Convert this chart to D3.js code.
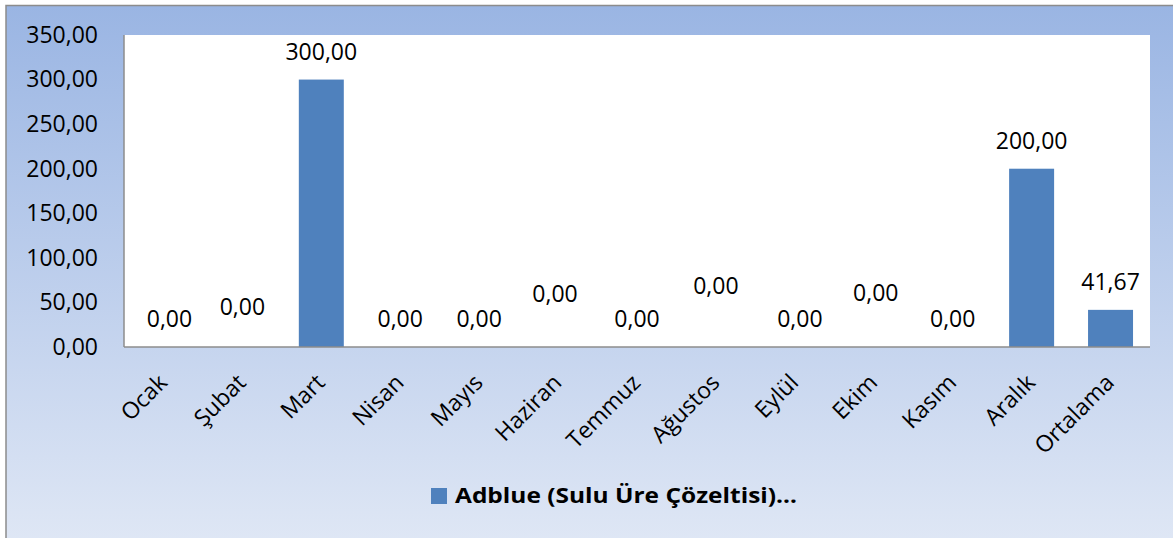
<!DOCTYPE html>
<html>
<head>
<meta charset="utf-8">
<script src="https://d3js.org/d3.v7.min.js"></script>
<style>
  html, body { margin: 0; padding: 0; background: #ffffff; }
  svg { display: block; font-family: "Open Sans", "Noto Sans", sans-serif; }
</style>
</head>
<body>
<svg id="chart" width="1173" height="538"></svg>
<script>
// data
const months = ['Ocak', 'Şubat', 'Mart', 'Nisan', 'Mayıs', 'Haziran', 'Temmuz', 'Ağustos', 'Eylül', 'Ekim', 'Kasım', 'Aralık', 'Ortalama'];
const values = [0, 0, 300, 0, 0, 0, 0, 0, 0, 0, 0, 200, 41.67];
const yTicks = [0, 50, 100, 150, 200, 250, 300, 350];
const seriesName = 'Adblue (Sulu Üre Çözeltisi)…';

// label placement quirks (px) seen in the original
const labelLift = [0, 12, 0, 0, 0, 25, 0, 33, 0, 26, 0, 0, 0];
const labelShift = [6, 0, 0, 0, 0, -3, 0, 0, 5, 2, 0, 0, 0];

const W = 1173, H = 538;
const plot = { left: 124, right: 1150, top: 35, bottom: 347 };
const fs = 23;
const fmt = v => d3.format('.2f')(v).replace('.', ',');

const svg = d3.select('#chart');

// background gradient
const defs = svg.append('defs');
const grad = defs.append('linearGradient')
  .attr('id', 'bg').attr('x1', 0).attr('y1', 0).attr('x2', 0).attr('y2', 1);
grad.append('stop').attr('offset', '0%').attr('stop-color', '#9ab5e3');
grad.append('stop').attr('offset', '100%').attr('stop-color', '#dfe7f5');

svg.append('rect')
  .attr('x', 6).attr('y', 5.5)
  .attr('width', W).attr('height', H)
  .attr('fill', 'url(#bg)')
  .attr('stroke', '#8c8c8c').attr('stroke-width', 1.5);

// plot area
svg.append('rect')
  .attr('x', plot.left).attr('y', plot.top)
  .attr('width', plot.right - plot.left).attr('height', plot.bottom - plot.top)
  .attr('fill', '#ffffff');

const x = d3.scaleBand().domain(months).range([plot.left, plot.right]).paddingInner(0.43).paddingOuter(0.215);
const xc = d3.scaleBand().domain(months).range([plot.left, plot.right]);
const y = d3.scaleLinear().domain([0, 350]).range([plot.bottom, plot.top]);

// bars
svg.append('g').selectAll('rect')
  .data(values)
  .join('rect')
  .attr('x', (d, i) => x(months[i]))
  .attr('y', d => y(d))
  .attr('width', x.bandwidth())
  .attr('height', d => y(0) - y(d))
  .attr('fill', '#4f81bd');

// axes lines
svg.append('line')
  .attr('x1', plot.left).attr('x2', plot.left)
  .attr('y1', plot.top).attr('y2', plot.bottom)
  .attr('stroke', '#8c8c8c').attr('stroke-width', 1.5);
svg.append('line')
  .attr('x1', plot.left).attr('x2', plot.right)
  .attr('y1', plot.bottom).attr('y2', plot.bottom)
  .attr('stroke', '#8c8c8c').attr('stroke-width', 1.5);

// y tick labels
svg.append('g').selectAll('text')
  .data(yTicks)
  .join('text')
  .attr('x', 98)
  .attr('y', d => y(d))
  .attr('dy', '0.34em')
  .attr('text-anchor', 'end')
  .attr('font-size', fs)
  .attr('fill', '#000')
  .text(fmt);

// x labels, rotated
svg.append('g').selectAll('text')
  .data(months)
  .join('text')
  .attr('transform', d => `translate(${xc(d) + xc.bandwidth() / 2 + 5},${plot.bottom + 37}) rotate(-45)`)
  .attr('text-anchor', 'end')
  .attr('font-size', fs)
  .attr('fill', '#000')
  .text(d => d);

// data labels
svg.append('g').selectAll('text')
  .data(values)
  .join('text')
  .attr('x', (d, i) => xc(months[i]) + xc.bandwidth() / 2 + labelShift[i])
  .attr('y', (d, i) => y(d) - 20 - labelLift[i])
  .attr('text-anchor', 'middle')
  .attr('font-size', fs)
  .attr('fill', '#000')
  .text(fmt);

// legend
const legend = svg.append('g');
legend.append('rect')
  .attr('x', 431).attr('y', 488)
  .attr('width', 16).attr('height', 16)
  .attr('fill', '#4f81bd');
legend.append('text')
  .attr('x', 455).attr('y', 503)
  .attr('font-size', 22)
  .attr('font-weight', 'bold')
  .attr('textLength', 342)
  .attr('lengthAdjust', 'spacingAndGlyphs')
  .attr('fill', '#000')
  .text(seriesName);
</script>
</body>
</html>
